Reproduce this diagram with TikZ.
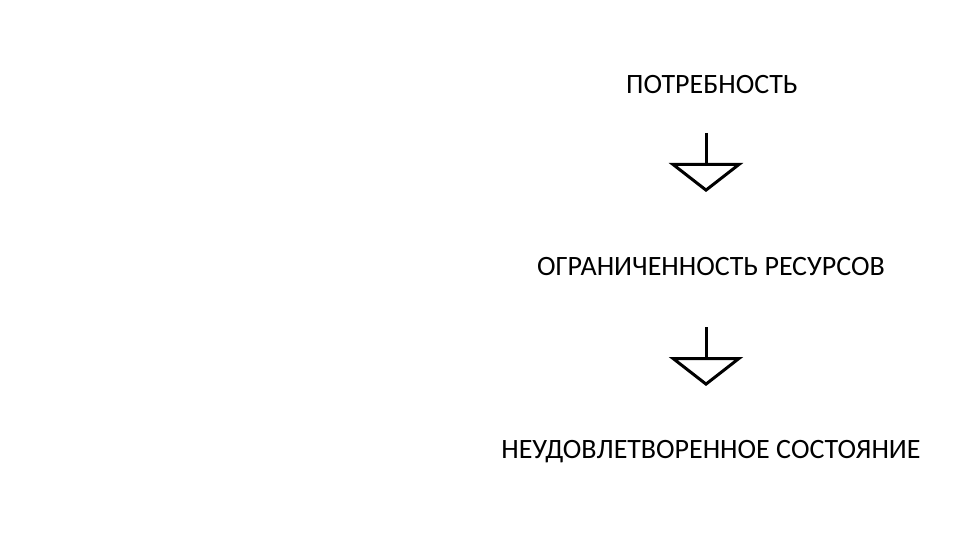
\documentclass[tikz,border=0pt]{standalone}
\usepackage{fontspec}
\setmainfont{Carlito}
\usetikzlibrary{arrows.meta,positioning}
\tikzset{
  steptext/.style={inner sep=0pt,font=\fontsize{28}{32}\selectfont},
  flowarrow/.style={line width=3pt,-{Triangle[open,length=29pt,width=74pt,line join=miter]}}
}

\begin{document}
\begin{tikzpicture}[x=1pt,y=-1pt]
\useasboundingbox[fill=white] (0,0) rectangle (960,540);
\node[steptext] (need) at (712,85) {ПОТРЕБНОСТЬ};
\node[steptext] (limit) at (711,267) {ОГРАНИЧЕННОСТЬ РЕСУРСОВ};
\node[steptext] (state) at (711,452) {НЕУДОВЛЕТВОРЕННОЕ СОСТОЯНИЕ};
% arrows between the steps
\coordinate (needout) at (706,133);
\coordinate (limitin) at (706,192);
\coordinate (limitout) at (706,327);
\coordinate (statein) at (706,386);
\draw[flowarrow] (needout) -- (limitin);
\draw[flowarrow] (limitout) -- (statein);
\end{tikzpicture}
\end{document}
